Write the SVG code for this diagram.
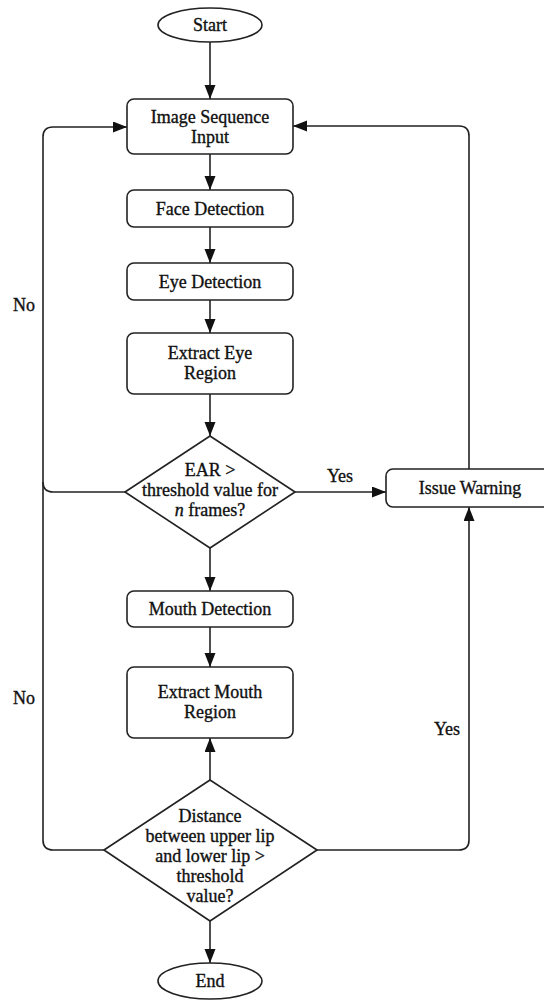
<svg xmlns="http://www.w3.org/2000/svg" width="544" height="1001" viewBox="0 0 544 1001">
<defs>
<marker id="arr" markerUnits="userSpaceOnUse" markerWidth="15" markerHeight="12" refX="14" refY="5.5" orient="auto">
<path d="M0,0 L14,5.5 L0,11 z" fill="#111"/>
</marker>
<style>
.n{fill:#fff;stroke:#222;stroke-width:1.6}
.t{font-family:"Liberation Serif","Times New Roman",serif;font-size:18px;fill:#111;stroke:#111;stroke-width:0.35;text-anchor:middle}
.c{fill:none;stroke:#222;stroke-width:1.6}
.a{marker-end:url(#arr)}
</style>
</defs>
<rect width="544" height="1001" fill="#fff"/>
<g id="connectors">
<path class="c a" d="M210,42 V99"/>
<path class="c a" d="M210,154 V190"/>
<path class="c a" d="M210,227 V263"/>
<path class="c a" d="M210,300 V333"/>
<path class="c a" d="M210,394 V436"/>
<path class="c a" d="M210,548 V591"/>
<path class="c a" d="M210,627 V667"/>
<path class="c a" d="M210,780 V738"/>
<path class="c a" d="M210,921 V963"/>
<path class="c a" d="M295,492 H386"/>
<path class="c a" d="M104,850 H53 Q43,850 43,840 V137 Q43,127 53,127 H127"/>
<path class="c" d="M125,492 H53 Q43,492 43,482"/>
<path class="c a" d="M469,469 V136 Q469,126 459,126 H293"/>
<path class="c a" d="M317,850 H459 Q469,850 469,840 V507"/>
<text class="t" x="340" y="482">Yes</text>
<text class="t" x="447" y="735">Yes</text>
<text class="t" x="24" y="311">No</text>
<text class="t" x="24" y="704">No</text>
</g>
<g id="start"><ellipse class="n" cx="210" cy="25" rx="52" ry="17"/><text class="t" x="210" y="31">Start</text></g>
<g id="image-input"><rect class="n" x="127" y="99" width="166" height="55" rx="7"/><text class="t" x="210" y="123">Image Sequence</text><text class="t" x="210" y="143">Input</text></g>
<g id="face"><rect class="n" x="127" y="190" width="166" height="37" rx="7"/><text class="t" x="210" y="215">Face Detection</text></g>
<g id="eye"><rect class="n" x="127" y="263" width="166" height="37" rx="7"/><text class="t" x="210" y="288">Eye Detection</text></g>
<g id="extract-eye"><rect class="n" x="127" y="333" width="166" height="61" rx="7"/><text class="t" x="210" y="359">Extract Eye</text><text class="t" x="210" y="379">Region</text></g>
<g id="ear"><path class="n" d="M210,436 L295,492 L210,548 L125,492 z" stroke-linejoin="round"/><text class="t" x="210" y="476">EAR &gt;</text><text class="t" x="210" y="496">threshold value for</text><text class="t" x="210" y="516"><tspan font-style="italic">n</tspan> frames?</text></g>
<g id="warning"><rect class="n" x="386" y="469" width="166" height="38" rx="7"/><text class="t" x="470" y="494">Issue Warning</text></g>
<g id="mouth"><rect class="n" x="127" y="591" width="166" height="36" rx="7"/><text class="t" x="210" y="615">Mouth Detection</text></g>
<g id="extract-mouth"><rect class="n" x="127" y="667" width="166" height="71" rx="7"/><text class="t" x="210" y="698">Extract Mouth</text><text class="t" x="210" y="718">Region</text></g>
<g id="distance"><path class="n" d="M210,780 L317,850 L210,921 L104,850 z" stroke-linejoin="round"/><text class="t" x="210" y="822">Distance</text><text class="t" x="210" y="842">between upper lip</text><text class="t" x="210" y="862">and lower lip &gt;</text><text class="t" x="210" y="882">threshold</text><text class="t" x="210" y="902">value?</text></g>
<g id="end"><ellipse class="n" cx="210" cy="981" rx="52" ry="18"/><text class="t" x="210" y="987">End</text></g>
</svg>
